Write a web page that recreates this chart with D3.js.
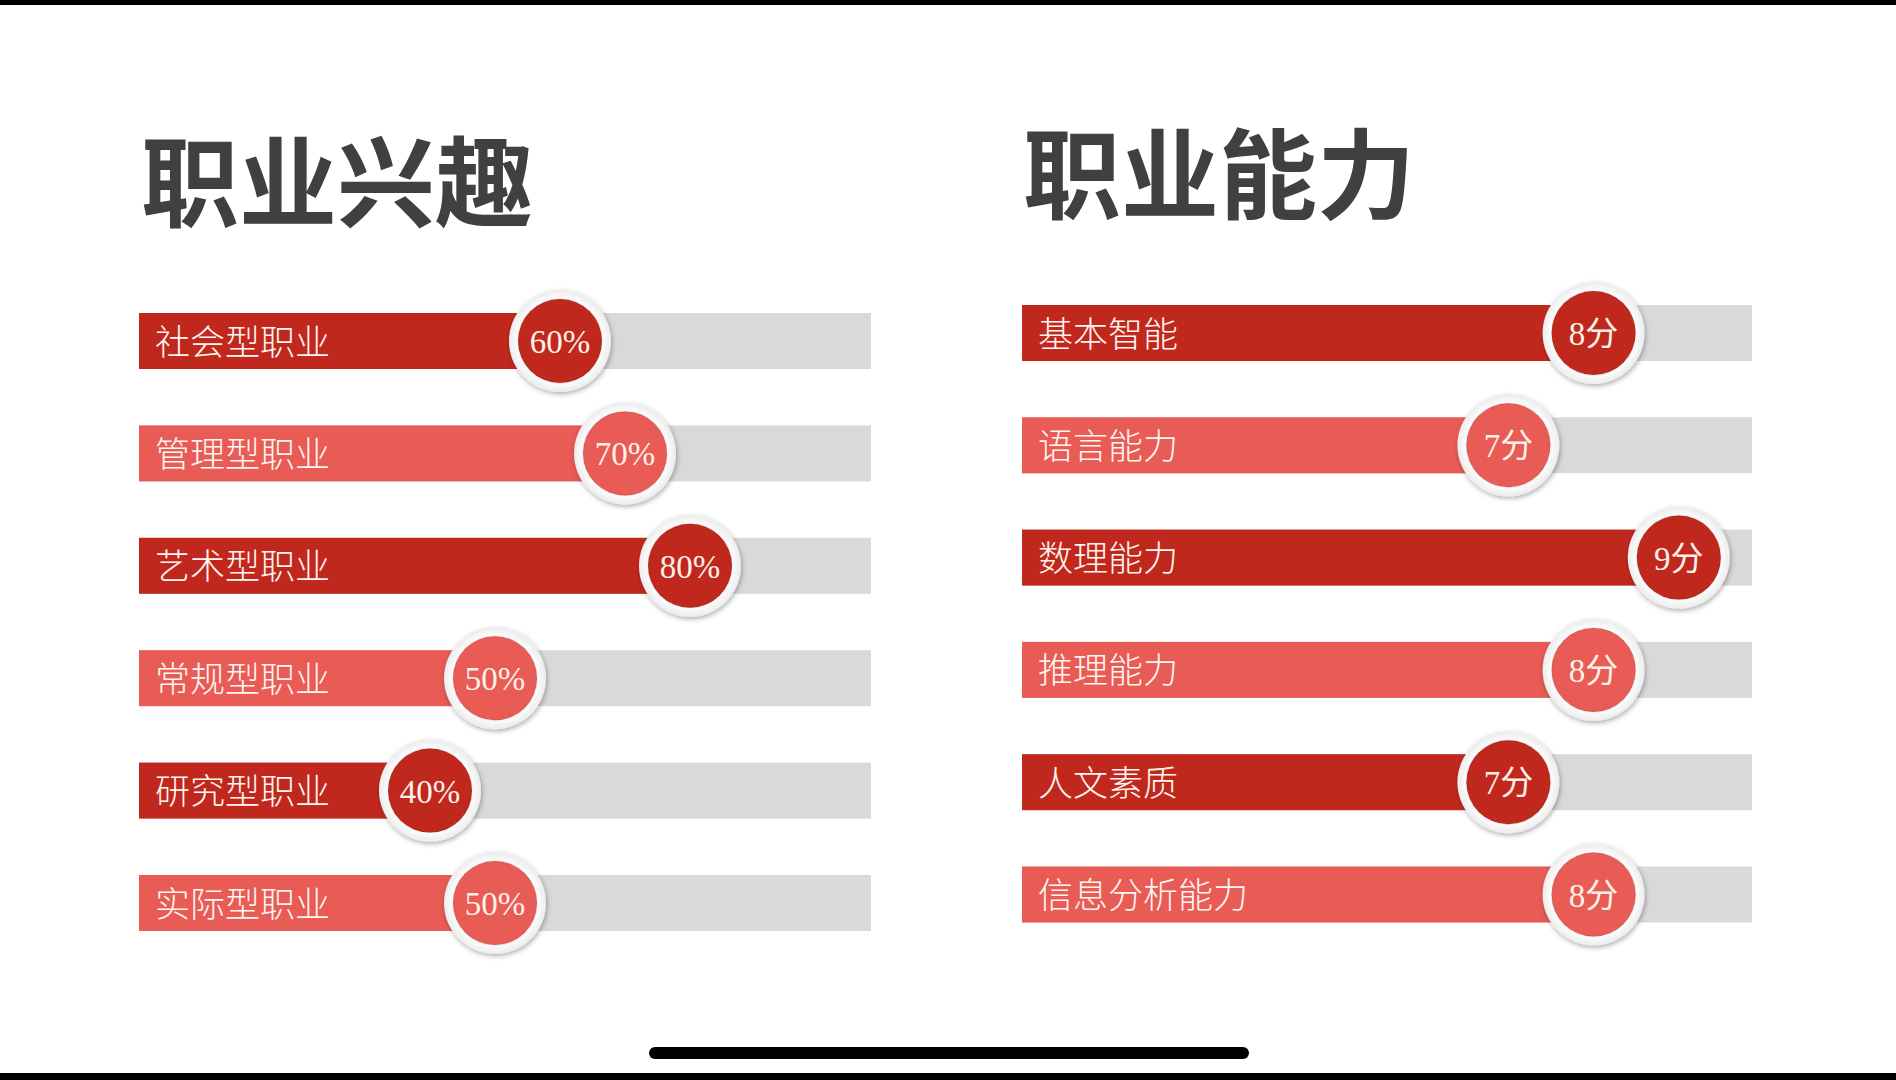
<!DOCTYPE html>
<html>
<head>
<meta charset="utf-8">
<script src="https://cdn.jsdelivr.net/npm/d3@7"></script>
<style>
  html, body { margin: 0; padding: 0; background: #fff; }
  svg { display: block; }
</style>
</head>
<body>
<div id="chart"></div>
<script>
// left panel: career interest
const interestTitle = "职业兴趣";
const interestCats = ["社会型职业", "管理型职业", "艺术型职业", "常规型职业", "研究型职业", "实际型职业"];
const interestValues = [0.6, 0.7, 0.8, 0.5, 0.4, 0.5];

// right panel: career ability (score out of 10)
const abilityTitle = "职业能力";
const abilityCats = ["基本智能", "语言能力", "数理能力", "推理能力", "人文素质", "信息分析能力"];
const abilityValues = [8, 7, 9, 8, 7, 8];

const W = 1896, H = 1080;
const darkRed = "#c1281d", lightRed = "#e95b55", track = "#d9d9d9";

const svg = d3.select("#chart").append("svg")
    .attr("width", W)
    .attr("height", H);

// drop shadow for the white rings
const defs = svg.append("defs");
const f = defs.append("filter").attr("id", "ring").attr("x", "-30%").attr("y", "-30%").attr("width", "160%").attr("height", "160%");
f.append("feDropShadow").attr("dx", 1).attr("dy", 2).attr("stdDeviation", 2.5)
    .attr("flood-color", "#000").attr("flood-opacity", 0.32);
const g1 = defs.append("radialGradient").attr("id", "ringFill");
g1.append("stop").attr("offset", "80%").attr("stop-color", "#ffffff");
g1.append("stop").attr("offset", "100%").attr("stop-color", "#ececec");

// phone frame bits
svg.append("rect").attr("x", 0).attr("y", 0).attr("width", W).attr("height", 5).attr("fill", "#000");
svg.append("rect").attr("x", 0).attr("y", 1073).attr("width", W).attr("height", 7).attr("fill", "#000");
svg.append("rect").attr("x", 649).attr("y", 1047).attr("width", 600).attr("height", 12)
    .attr("rx", 6).attr("fill", "#000");

function drawPanel(opts) {
    const { title, titleX, titleY, cats, values, x, rowRange, left, right, fmt } = opts;

    const y = d3.scalePoint()
        .domain(cats)
        .range(rowRange);

    const barH = 56, rOuter = 51, rInner = 42;
    const g = svg.append("g");

    g.append("text")
        .attr("x", titleX)
        .attr("y", titleY)
        .style("font-family", "'Noto Sans CJK SC', sans-serif")
        .style("font-weight", "bold")
        .style("font-size", "98px")
        .attr("fill", "#404040")
        .text(title);

    const rows = g.selectAll(".row")
        .data(cats.map((c, i) => ({ cat: c, value: values[i], i: i })))
        .enter()
        .append("g")
        .attr("class", "row");

    // grey track
    rows.append("rect")
        .attr("x", left)
        .attr("y", d => y(d.cat) - barH / 2)
        .attr("width", right - left)
        .attr("height", barH)
        .attr("fill", track);

    // coloured bar up to the value
    rows.append("rect")
        .attr("x", left)
        .attr("y", d => y(d.cat) - barH / 2)
        .attr("width", d => x(d.value) - left)
        .attr("height", barH)
        .attr("fill", d => d.i % 2 === 0 ? darkRed : lightRed);

    rows.append("text")
        .attr("x", left + 16)
        .attr("y", d => y(d.cat) - 2)
        .attr("dominant-baseline", "central")
        .style("font-family", "'Noto Sans CJK SC', sans-serif")
        .style("font-weight", 300)
        .style("font-size", "35px")
        .attr("fill", "#fff6f2")
        .text(d => d.cat);

    // knob
    rows.append("circle")
        .attr("cx", d => x(d.value))
        .attr("cy", d => y(d.cat))
        .attr("r", rOuter)
        .attr("fill", "url(#ringFill)")
        .attr("filter", "url(#ring)");

    rows.append("circle")
        .attr("cx", d => x(d.value))
        .attr("cy", d => y(d.cat))
        .attr("r", rInner)
        .attr("fill", d => d.i % 2 === 0 ? darkRed : lightRed)
        .attr("stroke", "rgba(0,0,0,0.08)")
        .attr("stroke-width", 1.5);

    rows.append("text")
        .attr("x", d => x(d.value))
        .attr("y", d => y(d.cat) + 12)
        .attr("text-anchor", "middle")
        .style("font-family", "'Liberation Serif', 'Noto Sans CJK SC', serif")
        .style("font-size", "33px")
        .attr("fill", "#fdf1ea")
        .text(d => fmt(d.value));
}

drawPanel({
    title: interestTitle,
    titleX: 141, titleY: 219,
    cats: interestCats,
    values: interestValues,
    x: d3.scaleLinear().domain([0, 1]).range([170, 820]),
    rowRange: [341, 903],
    left: 139, right: 871,
    fmt: d3.format(".0%")
});

drawPanel({
    title: abilityTitle,
    titleX: 1023, titleY: 211,
    cats: abilityCats,
    values: abilityValues,
    x: d3.scaleLinear().domain([0, 10]).range([912, 1764]),
    rowRange: [333, 894.5],
    left: 1022, right: 1752,
    fmt: d => d + "分"
});
</script>
</body>
</html>
